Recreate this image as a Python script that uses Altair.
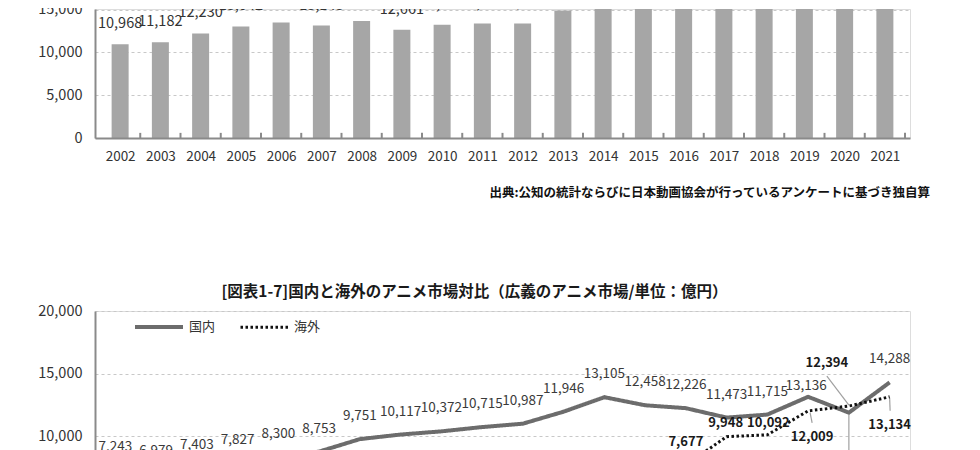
import altair as alt
import pandas as pd

# ---------------- data ----------------
years = list(range(2002, 2022))
total_market = [10968, 11182, 12230, 13042, 13504, 13143, 13688, 12661, 13239, 13375,
                13395, 14913, 16296, 18255, 20010, 21624, 21814, 25146, 24261, 27422]
domestic = [7243, 6979, 7403, 7827, 8300, 8753, 9751, 10117, 10372, 10715,
            10987, 11946, 13105, 12458, 12226, 11473, 11715, 13136, 11867, 14288]
overseas = [3725, 4203, 4827, 5215, 5204, 4390, 3937, 2544, 2867, 2660,
            2408, 2823, 3265, 5833, 7677, 9948, 10092, 12009, 12394, 13134]
series_names = ["国内", "海外"]
source_note = "出典:公知の統計ならびに日本動画協会が行っているアンケートに基づき独自算"
bottom_title = "[図表1-7]国内と海外のアニメ市場対比（広義のアニメ市場/単位：億円）"
top_y_ticks = [0, 5000, 10000, 15000]
bottom_y_ticks = [0, 5000, 10000, 15000, 20000]

# ---------------- layout / style ----------------
FONT = "Noto Sans CJK JP"
AXIS_GRAY = "#8a8a8a"
GRID_GRAY = "#c8c8c8"
TEXT = "#333333"
PLOT_W = 815
TOP_H = 129
TOP_MAX = 15080
BOT_H = 250
BOT_MAX = 20000
step = PLOT_W / len(years)
units_per_px = BOT_MAX / BOT_H
xdom = [years[0] - 0.5, years[-1] + 0.5]

# label offsets in pixels (dx, dy) from the data point
default_shift = {"国内": (0, -23), "海外": (0, -23)}
label_shift = {
    ("国内", 2019): (-2, -11),
    ("国内", 2020): (42, 47),
    ("海外", 2017): (-1, -14),
    ("海外", 2018): (1, -12),
    ("海外", 2019): (4, 26),
    ("海外", 2020): (-22, -43),
    ("海外", 2021): (0, 28),
}
# leader lines: (series, year, (dx1, dy1), (dx2, dy2)) in pixels from the point
leaders = [
    ("国内", 2020, (0, 2), (0, 40)),
    ("国内", 2020, (0, 40), (12, 40)),
    ("海外", 2019, (2, 2), (4, 12)),
    ("海外", 2020, (-22, -30), (0, -1)),
    ("海外", 2021, (0, 1), (0.5, 14)),
]

# ---------------- top chart ----------------
top_df = pd.DataFrame({"year": years, "value": total_market})
top_df["label"] = top_df["value"].map("{:,}".format)
tick_df = pd.DataFrame({"year": [y + 0.5 for y in years]})

x_top = alt.X("year:Q",
              scale=alt.Scale(domain=xdom, nice=False, zero=False),
              axis=alt.Axis(values=years, format="d", title=None, ticks=False, grid=False,
                            labelFontSize=13.5, labelPadding=11, labelColor=TEXT, labelFont=FONT,
                            labelFlush=False, domainColor=AXIS_GRAY, domainWidth=2, zindex=1))
y_top = alt.Y("value:Q",
              scale=alt.Scale(domain=[0, TOP_MAX], nice=False),
              axis=alt.Axis(values=top_y_ticks, format=",d", title=None, ticks=False,
                            grid=True, gridDash=[3, 3], gridColor=GRID_GRAY,
                            domainColor=AXIS_GRAY, domainWidth=2,
                            labelFontSize=14.5, labelPadding=13, labelColor=TEXT, labelFont=FONT))

bars = alt.Chart(top_df).mark_bar(size=17, color="#a6a6a6", clip=True).encode(x=x_top, y=y_top)
bar_labels = alt.Chart(top_df).mark_text(dy=-20, fontSize=14.5, font=FONT, color=TEXT,
                                         clip=True).encode(x=x_top, y=y_top, text="label:N")
ticks = alt.Chart(tick_df).mark_rule(color=AXIS_GRAY, strokeWidth=2).encode(
    x=x_top, y=alt.datum(0), y2=alt.datum(600))

top = alt.layer(bars, bar_labels, ticks).properties(
    width=PLOT_W, height=TOP_H,
    title=alt.TitleParams(source_note, orient="bottom", anchor="end", fontSize=12.5,
                          fontWeight="bold", font=FONT, color="#111", offset=24, dx=20))

# ---------------- bottom chart ----------------
line_df = pd.DataFrame({
    "year": years * 2,
    "value": domestic + overseas,
    "series": [series_names[0]] * len(years) + [series_names[1]] * len(years),
})
lab = line_df.copy()
lab["label"] = lab["value"].map("{:,}".format)
shifts = [label_shift.get((s, y), default_shift[s]) for s, y in zip(lab["series"], lab["year"])]
lab["lx"] = [y + d[0] / step for y, d in zip(lab["year"], shifts)]
lab["ly"] = [v - d[1] * units_per_px for v, d in zip(lab["value"], shifts)]

val_lookup = {(s, y): v for s, y, v in zip(line_df["series"], line_df["year"], line_df["value"])}
lead_df = pd.DataFrame([
    {"x1": y + p1[0] / step, "y1": val_lookup[(s, y)] - p1[1] * units_per_px,
     "x2": y + p2[0] / step, "y2": val_lookup[(s, y)] - p2[1] * units_per_px}
    for s, y, p1, p2 in leaders
])

xscale_b = alt.Scale(domain=xdom, nice=False, zero=False)
yscale_b = alt.Scale(domain=[0, BOT_MAX], nice=False)
x_axis_b = alt.Axis(values=years, format="d", title=None, ticks=False, grid=False,
                    labelFontSize=13.5, labelColor=TEXT, labelFont=FONT, labelFlush=False,
                    domainColor=AXIS_GRAY, domainWidth=2)
y_axis_b = alt.Axis(values=bottom_y_ticks, format=",d", title=None, ticks=False,
                    grid=True, gridDash=[3, 3], gridColor=GRID_GRAY,
                    domainColor=AXIS_GRAY, domainWidth=2,
                    labelFontSize=14.5, labelPadding=13, labelColor=TEXT, labelFont=FONT)

legend = alt.Legend(title=None, orient="none", legendX=38, legendY=-10, direction="horizontal",
                    symbolType="stroke", symbolSize=2304, labelFontSize=13, labelFont=FONT,
                    labelColor=TEXT, columnPadding=18, labelOffset=4)

lines = alt.Chart(line_df).mark_line().encode(
    x=alt.X("year:Q", scale=xscale_b, axis=x_axis_b),
    y=alt.Y("value:Q", scale=yscale_b, axis=y_axis_b),
    color=alt.Color("series:N", scale=alt.Scale(domain=series_names, range=["#6c6c6c", "#111111"]),
                    legend=legend),
    strokeDash=alt.StrokeDash("series:N", scale=alt.Scale(domain=series_names,
                                                          range=[[1, 0], [2.5, 2.5]]), legend=legend),
    strokeWidth=alt.StrokeWidth("series:N", scale=alt.Scale(domain=series_names, range=[4, 3]),
                                legend=legend),
)

dom_labels = alt.Chart(lab).transform_filter(alt.datum.series == series_names[0]).mark_text(
    fontSize=13.5, font=FONT, color="#3a3a3a").encode(
    x=alt.X("lx:Q", scale=xscale_b), y=alt.Y("ly:Q", scale=yscale_b), text="label:N")
ovs_labels = alt.Chart(lab).transform_filter(alt.datum.series == series_names[1]).mark_text(
    fontSize=13, font=FONT, color="#1a1a1a", fontWeight="bold").encode(
    x=alt.X("lx:Q", scale=xscale_b), y=alt.Y("ly:Q", scale=yscale_b), text="label:N")
leader_rules = alt.Chart(lead_df).mark_rule(color="#a0a0a0", strokeWidth=1.2).encode(
    x=alt.X("x1:Q", scale=xscale_b), y=alt.Y("y1:Q", scale=yscale_b),
    x2="x2:Q", y2="y2:Q")

bottom = alt.layer(leader_rules, lines, dom_labels, ovs_labels).properties(
    width=PLOT_W, height=BOT_H,
    title=alt.TitleParams(bottom_title, fontSize=15.5, fontWeight="bold", font=FONT,
                          color="#1a1a1a", anchor="middle", offset=1, dx=-28))

chart = alt.vconcat(top, bottom, spacing=84).resolve_scale(
    x="independent", y="independent",
    color="independent", strokeDash="independent", strokeWidth="independent"
).resolve_legend(
    color="independent", strokeDash="independent", strokeWidth="independent"
).properties(
    padding={"left": 29, "top": -7, "right": 5, "bottom": 5}
).configure_view(stroke=None).configure(font=FONT)

chart.save("out.html", embed_options={"renderer": "svg", "actions": False})
